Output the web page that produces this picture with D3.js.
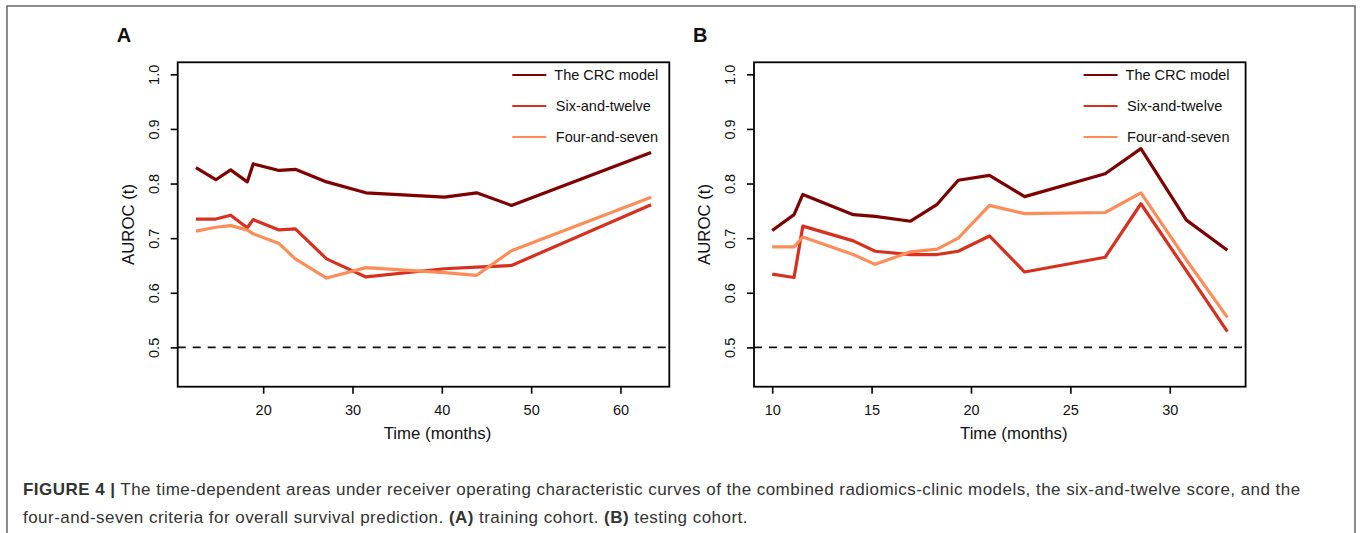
<!DOCTYPE html>
<html>
<head>
<meta charset="utf-8">
<script src="https://cdn.jsdelivr.net/npm/d3@7"></script>
<style>
  body { margin: 0; background: #fff; }
  svg { display: block; font-family: "Liberation Sans", Arial, Helvetica, sans-serif; }
</style>
</head>
<body>
<svg id="fig" width="1360" height="533"></svg>
<script>
// panel A: training cohort
const timeA = [12.47, 14.7, 16.36, 18.22, 18.88, 21.78, 23.6, 27.1, 31.5, 40.3, 43.9, 47.8, 63.43];
const crcA  = [0.829, 0.807, 0.825, 0.803, 0.836, 0.824, 0.826, 0.803, 0.783, 0.775, 0.783, 0.760, 0.857];
const sixA  = [0.735, 0.735, 0.742, 0.719, 0.734, 0.715, 0.717, 0.662, 0.629, 0.644, 0.647, 0.650, 0.761];
const fourA = [0.713, 0.720, 0.723, 0.715, 0.708, 0.690, 0.662, 0.627, 0.646, 0.637, 0.632, 0.677, 0.775];

// panel B: testing cohort
const timeB = [10, 11.1, 11.54, 14.08, 15.18, 16.96, 18.3, 19.36, 20.93, 22.7, 26.75, 28.55, 30.84, 32.9];
const crcB  = [0.714, 0.743, 0.780, 0.743, 0.740, 0.731, 0.762, 0.806, 0.815, 0.776, 0.818, 0.864, 0.733, 0.678];
const sixB  = [0.634, 0.628, 0.722, 0.695, 0.676, 0.670, 0.670, 0.676, 0.704, 0.638, 0.665, 0.763, 0.640, 0.529];
const fourB = [0.684, 0.684, 0.702, 0.670, 0.652, 0.675, 0.680, 0.700, 0.760, 0.745, 0.747, 0.783, 0.660, 0.555];

const seriesNames = ["The CRC model", "Six-and-twelve", "Four-and-seven"];
const seriesColors = ["#7f0000", "#d7301f", "#fc8d59"];
const xTicksA = [20, 30, 40, 50, 60];
const xTicksB = [10, 15, 20, 25, 30];
const yTicks = [0.5, 0.6, 0.7, 0.8, 0.9, 1.0];
const yLimits = [0.45, 1.0];
const reference = 0.5;

const svg = d3.select("#fig");

// outer figure frame
svg.append("rect")
  .attr("x", 7).attr("y", 6).attr("width", 1348).attr("height", 540)
  .attr("fill", "none").attr("stroke", "#666").attr("stroke-width", 1.5);

const box = { w: 491.6, h: 324.4, top: 62.3 };

// R style axis limits: extend range by 4%
const pad4 = ([a, b]) => [a - (b - a) * 0.04, b + (b - a) * 0.04];

const drawPanel = (left, letter, times, series, xTicks, legendShift) => {
  const g = svg.append("g").attr("transform", `translate(${left},${box.top})`);

  const x = d3.scaleLinear().domain(pad4(d3.extent(times))).range([0, box.w]);
  const y = d3.scaleLinear().domain(pad4(yLimits)).range([box.h, 0]);

  // x axis
  const xa = g.append("g")
    .attr("transform", `translate(0,${box.h})`)
    .call(d3.axisBottom(x).tickValues(xTicks).tickSize(7).tickPadding(11).tickFormat(d3.format("d")));
  xa.select(".domain").remove();
  xa.selectAll("line").attr("stroke", "#000").attr("stroke-width", 1.6);
  xa.selectAll("text").attr("font-size", 14.5).attr("fill", "#111").attr("font-family", null);

  // y axis, labels parallel to axis
  const ya = g.append("g")
    .call(d3.axisLeft(y).tickValues(yTicks).tickSize(7).tickFormat(d3.format(".1f")));
  ya.select(".domain").remove();
  ya.selectAll("line").attr("stroke", "#000").attr("stroke-width", 1.6);
  ya.selectAll("text")
    .attr("x", null).attr("dy", null)
    .attr("transform", "translate(-19,0) rotate(-90)")
    .attr("text-anchor", "middle")
    .attr("font-size", 14.5).attr("fill", "#111").attr("font-family", null);

  // reference line at 0.5
  g.append("line")
    .attr("x1", 0).attr("x2", box.w)
    .attr("y1", y(reference)).attr("y2", y(reference))
    .attr("stroke", "#111").attr("stroke-width", 1.8)
    .attr("stroke-dasharray", "8,7");

  const line = d3.line().x((d) => x(d[0])).y((d) => y(d[1]));

  series.forEach((vals, i) => {
    g.append("path")
      .datum(times.map((t, j) => [t, vals[j]]))
      .attr("d", line)
      .attr("fill", "none")
      .attr("stroke", seriesColors[i])
      .attr("stroke-width", 3.2)
      .attr("stroke-linejoin", "round");
  });

  // legend
  const leg = g.append("g").attr("transform", `translate(${box.w - 157 + legendShift},0)`);
  seriesNames.forEach((name, i) => {
    const ly = 12.7 + i * 31;
    leg.append("line")
      .attr("x1", 0).attr("x2", 34).attr("y1", ly).attr("y2", ly)
      .attr("stroke", seriesColors[i]).attr("stroke-width", 2.2);
    leg.append("text")
      .attr("x", 42 + (i === 0 ? 0 : 1.5)).attr("y", ly + 5)
      .attr("font-size", 14.5).attr("fill", "#111")
      .text(name);
  });

  // plot box
  g.append("rect")
    .attr("width", box.w).attr("height", box.h)
    .attr("fill", "none").attr("stroke", "#000").attr("stroke-width", 1.8);

  // axis titles
  g.append("text")
    .attr("x", box.w / 2 + 14).attr("y", box.h + 52)
    .attr("text-anchor", "middle").attr("font-size", 16.8).attr("fill", "#111")
    .text("Time (months)");
  g.append("text")
    .attr("transform", `translate(-44,${box.h / 2}) rotate(-90)`)
    .attr("text-anchor", "middle").attr("font-size", 16.8).attr("fill", "#111")
    .text("AUROC (t)");

  // panel letter
  svg.append("text")
    .attr("x", left - 61).attr("y", 42)
    .attr("font-size", 20).attr("font-weight", "bold").attr("fill", "#111")
    .text(letter);
};

drawPanel(177.7, "A", timeA, [crcA, sixA, fourA], xTicksA, 0);
drawPanel(754, "B", timeB, [crcB, sixB, fourB], xTicksB, -5);

// caption
const cap = svg.append("g").attr("font-size", 17).attr("fill", "#333").attr("letter-spacing", 0.46);
const l1 = cap.append("text").attr("x", 23).attr("y", 495);
l1.append("tspan").attr("font-weight", "bold").text("FIGURE 4 |");
l1.append("tspan").text(" The time-dependent areas under receiver operating characteristic curves of the combined radiomics-clinic models, the six-and-twelve score, and the");
const l2 = cap.append("text").attr("x", 23).attr("y", 523);
l2.append("tspan").text("four-and-seven criteria for overall survival prediction. ");
l2.append("tspan").attr("font-weight", "bold").text("(A)");
l2.append("tspan").text(" training cohort. ");
l2.append("tspan").attr("font-weight", "bold").text("(B)");
l2.append("tspan").text(" testing cohort.");
</script>
</body>
</html>
